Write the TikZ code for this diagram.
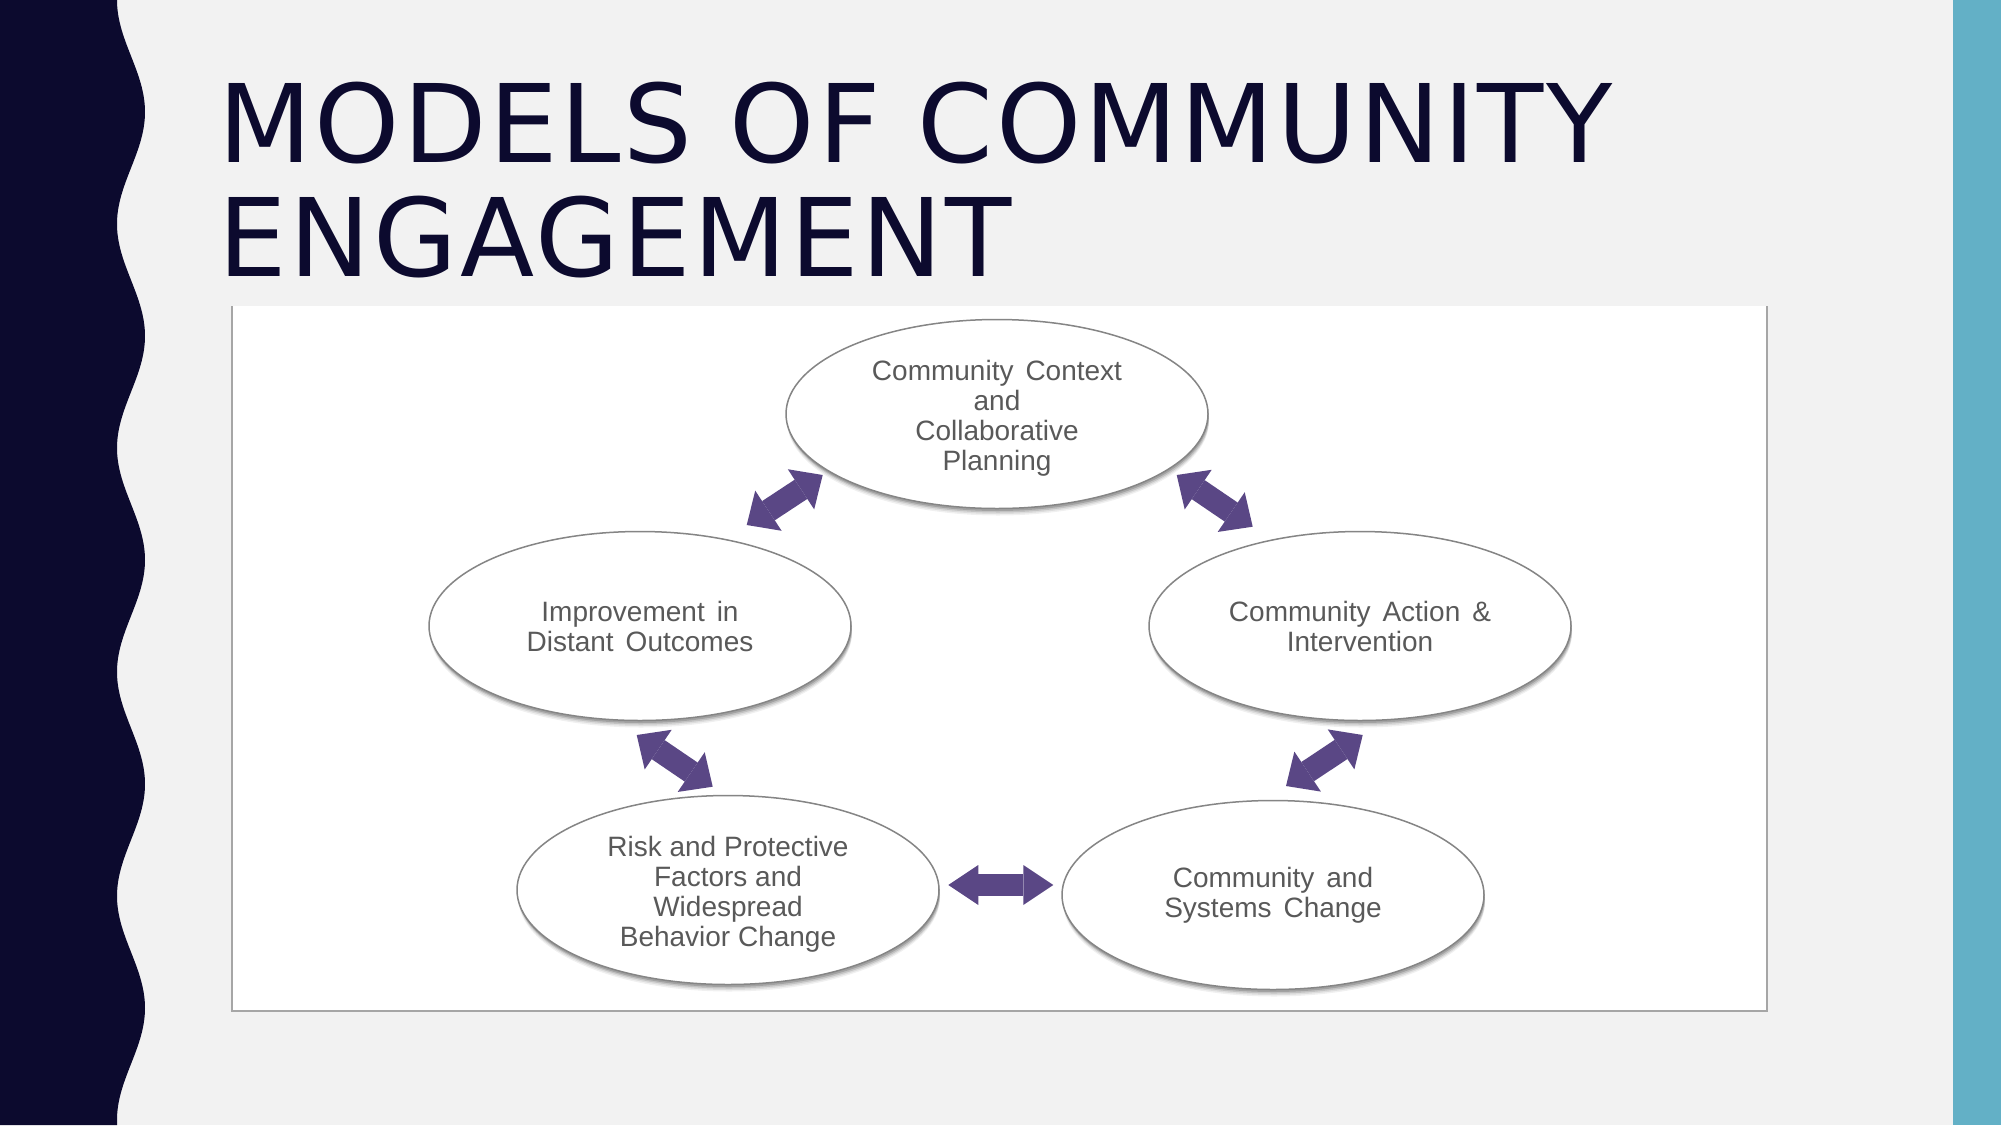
\documentclass[tikz,border=0pt]{standalone}
\usepackage{fontspec}
\setmainfont{Liberation Sans}
\newfontfamily\titlefont{DejaVu Sans}[LetterSpace=2.6]
\usetikzlibrary{shapes.geometric,arrows.meta,shadows}
\definecolor{navy}{HTML}{0C0A2E}
\definecolor{tealbar}{HTML}{63B0C6}
\definecolor{bgcol}{HTML}{F2F2F2}
\definecolor{arrowcol}{HTML}{5A4785}
\definecolor{txtgray}{HTML}{595959}
\definecolor{outlinecol}{HTML}{858585}
\definecolor{framegray}{HTML}{A6A6A6}
\begin{document}
\begin{tikzpicture}[x=1pt,y=-1pt,
  stage/.style={ellipse, draw=outlinecol, line width=1.5pt, fill=white,
    minimum width=422pt, minimum height=189pt, inner sep=1pt, align=center,
    text=txtgray, font=\fontsize{28}{30}\selectfont,
    drop shadow={shadow xshift=1pt, shadow yshift=-7pt, opacity=0.06, fill=black},
    drop shadow={shadow xshift=1pt, shadow yshift=-5.5pt, opacity=0.08, fill=black},
    drop shadow={shadow xshift=1pt, shadow yshift=-4pt, opacity=0.12, fill=black},
    drop shadow={shadow xshift=0.5pt, shadow yshift=-2.5pt, opacity=0.16, fill=black}},
  diag/.style={draw=arrowcol, line width=23pt,
    arrows={Triangle[line width=0pt,length=26pt,width=48pt]-Triangle[line width=0pt,length=26pt,width=48pt]}},
  horiz/.style={draw=arrowcol, line width=22pt,
    arrows={Triangle[line width=0pt,length=30pt,width=40pt]-Triangle[line width=0pt,length=30pt,width=40pt]}},
  titletext/.style={anchor=base west, inner sep=0pt, text=navy,
    font=\titlefont\fontsize{108.4}{110}\selectfont}
]
\useasboundingbox (0,0) rectangle (2001,1125);
% background
\fill[bgcol] (0,0) rectangle (2001,1125);
% left wavy band
\fill[navy] (0,0) -- plot[variable=\t, domain=0:1125, samples=300] ({131-14*cos((\t/224)*360)},{\t}) -- (0,1125) -- cycle;
% right teal bar
\fill[tealbar] (1953,0) rectangle (2001,1125);
% title
\node[titletext] (title1) at (218.4,162) {MODELS OF COMMUNITY};
\node[titletext] (title2) at (218.4,276) {ENGAGEMENT};
% picture frame
\fill[white] (232,306) rectangle (1767,1011);
\draw[framegray, line width=2pt] (232,306) -- (232,1011) -- (1767,1011) -- (1767,306);
% stages
\node[stage] (plan) at (997,414) {\rule{0pt}{29pt}Community\hspace{0.15em} Context\\and\\Collaborative\\Planning};
\node[stage] (outcome) at (640,626) {Improvement\hspace{0.15em} in\\Distant\hspace{0.15em} Outcomes};
\node[stage] (action) at (1360,626) {Community\hspace{0.15em} Action\hspace{0.15em} \&\\Intervention};
\node[stage] (risk) at (728,890) {\rule{0pt}{29pt}Risk and Protective\\Factors and\\Widespread\\Behavior Change};
\node[stage] (systems) at (1273,895) {Community\hspace{0.15em} and\\Systems\hspace{0.15em} Change};
% arrow end points
\coordinate (pA1) at (746.7,525);  \coordinate (pA2) at (822.7,475);
\coordinate (pB1) at (1176.7,475); \coordinate (pB2) at (1252.7,526.7);
\coordinate (pC1) at (636.7,735);  \coordinate (pC2) at (712.7,786.7);
\coordinate (pD1) at (1286,786);   \coordinate (pD2) at (1362.7,735);
\coordinate (pE1) at (948.3,885);  \coordinate (pE2) at (1053.3,885);
% double arrows
\draw[diag] (pA1) -- (pA2);
\draw[diag] (pB1) -- (pB2);
\draw[diag] (pC1) -- (pC2);
\draw[diag] (pD1) -- (pD2);
\draw[horiz] (pE1) -- (pE2);
\end{tikzpicture}
\end{document}
